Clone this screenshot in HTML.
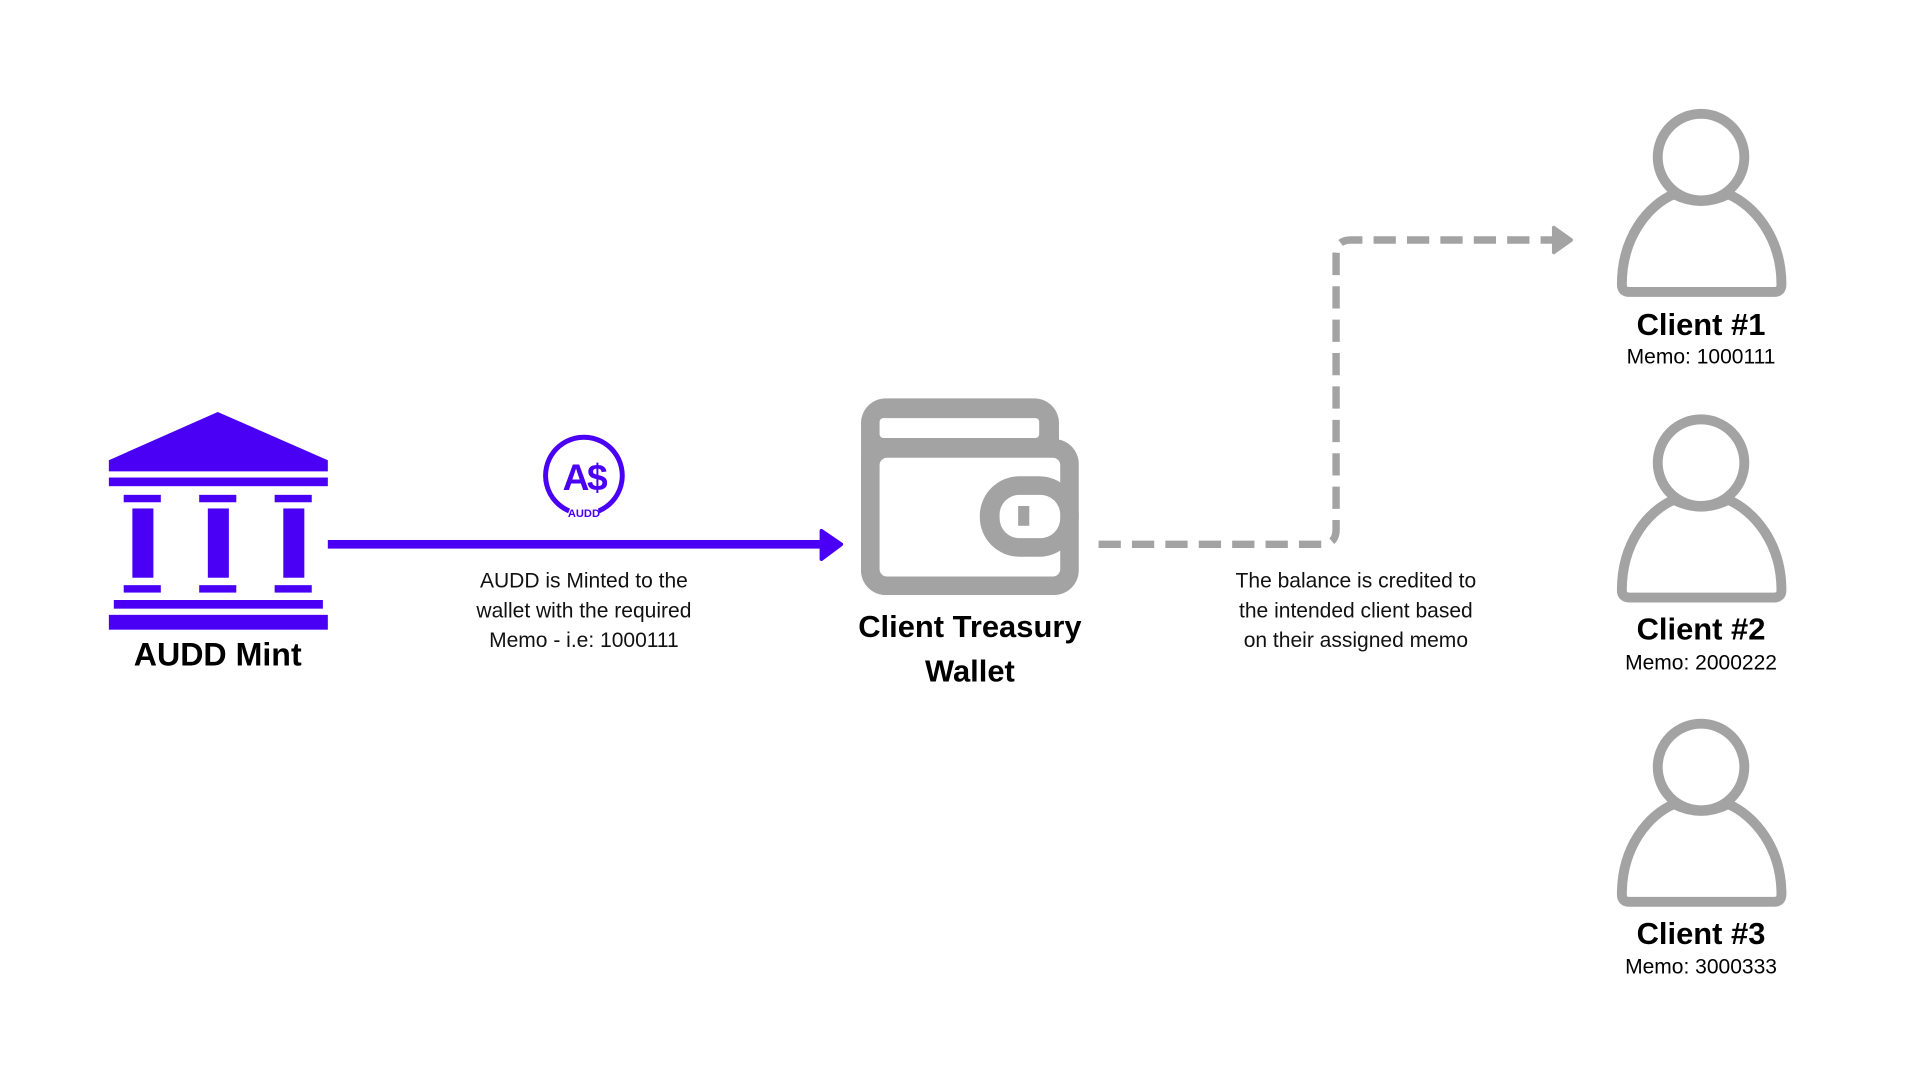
<!DOCTYPE html>
<html><head><meta charset="utf-8"><style>
html,body{margin:0;padding:0;background:#fff;}
svg{display:block;}
text{font-family:"Liberation Sans",sans-serif;}
</style></head><body>
<svg width="1920" height="1080" viewBox="0 0 1552 873" xmlns="http://www.w3.org/2000/svg">
<rect width="1552" height="873" fill="#fff"/>
<g fill="#4a00f5">
<polygon points="88,372 176,333 265,372 265,381 88,381"/>
<rect x="88" y="386" width="177" height="7"/>
<rect x="100" y="400" width="30" height="6"/><rect x="161" y="400" width="30" height="6"/><rect x="222" y="400" width="30" height="6"/>
<rect x="107" y="411" width="17" height="56"/><rect x="168" y="411" width="17" height="56"/><rect x="229" y="411" width="17" height="56"/>
<rect x="100" y="473" width="30" height="6"/><rect x="161" y="473" width="30" height="6"/><rect x="222" y="473" width="30" height="6"/>
<rect x="92" y="485" width="169" height="7"/>
<rect x="88" y="497" width="177" height="12"/>
</g>
<text x="176" y="538" text-anchor="middle" font-size="26" font-weight="bold" fill="#000">AUDD Mint</text>
<line x1="265" y1="440" x2="668" y2="440" stroke="#4a00f5" stroke-width="7"/>
<polygon points="664,429 680,440 664,452" fill="#4a00f5" stroke="#4a00f5" stroke-width="3" stroke-linejoin="round"/>
<path d="M460,413 A31,31 0 1 1 484,413" fill="none" stroke="#4a00f5" stroke-width="4"/>
<text x="472" y="396" text-anchor="middle" font-size="30" font-weight="bold" fill="#4a00f5" letter-spacing="-2">A$</text>
<text x="472" y="418" text-anchor="middle" font-size="9" font-weight="bold" fill="#4a00f5">AUDD</text>
<g font-size="17" fill="#111" text-anchor="middle">
<text x="472" y="475">AUDD is Minted to the</text>
<text x="472" y="499">wallet with the required</text>
<text x="472" y="523">Memo - i.e: 1000111</text>
</g>
<g fill="#a3a3a3">
<rect x="696" y="322" width="160" height="159" rx="20"/>
<rect x="696" y="355" width="176" height="126" rx="20"/>
</g>
<rect x="711" y="338" width="129" height="16" rx="3" fill="#fff"/>
<rect x="711" y="370" width="146" height="96" rx="6" fill="#fff"/>
<rect x="792" y="385" width="80" height="65" rx="32" fill="#a3a3a3"/>
<rect x="808" y="400" width="49" height="35" rx="16" fill="#fff"/>
<rect x="823" y="409" width="9" height="16" fill="#a3a3a3"/>
<text x="784" y="515" text-anchor="middle" font-size="25" font-weight="bold" fill="#000">Client Treasury</text>
<text x="784" y="551" text-anchor="middle" font-size="25" font-weight="bold" fill="#000">Wallet</text>
<path d="M888,440 L1068,440 Q1080,440 1080,428 L1080,206 Q1080,194 1092,194 L1258,194" fill="none" stroke="#a3a3a3" stroke-width="6" stroke-dasharray="18,9"/>
<polygon points="1256,184 1270,194 1256,204" fill="#a3a3a3" stroke="#a3a3a3" stroke-width="3" stroke-linejoin="round"/>
<g font-size="17" fill="#111" text-anchor="middle">
<text x="1096" y="475">The balance is credited to</text>
<text x="1096" y="499">the intended client based</text>
<text x="1096" y="523">on their assigned memo</text>
</g>
<g id="p1">
<circle cx="1375" cy="127" r="35" fill="none" stroke="#a3a3a3" stroke-width="8"/>
<path d="M1311,230 C1311,192 1332,166 1353,157 Q1375,168 1397,157 C1418,166 1440,192 1440,230 Q1440,236 1434,236 L1317,236 Q1311,236 1311,230 Z" fill="none" stroke="#a3a3a3" stroke-width="8" stroke-linejoin="round"/>
</g>
<use href="#p1" y="247"/>
<use href="#p1" y="493"/>
<g text-anchor="middle" fill="#000">
<text x="1375" y="271" font-size="25" font-weight="bold">Client #1</text>
<text x="1375" y="294" font-size="17">Memo: 1000111</text>
<text x="1375" y="517" font-size="25" font-weight="bold">Client #2</text>
<text x="1375" y="541" font-size="17">Memo: 2000222</text>
<text x="1375" y="763" font-size="25" font-weight="bold">Client #3</text>
<text x="1375" y="787" font-size="17">Memo: 3000333</text>
</g>
</svg>
</body></html>
